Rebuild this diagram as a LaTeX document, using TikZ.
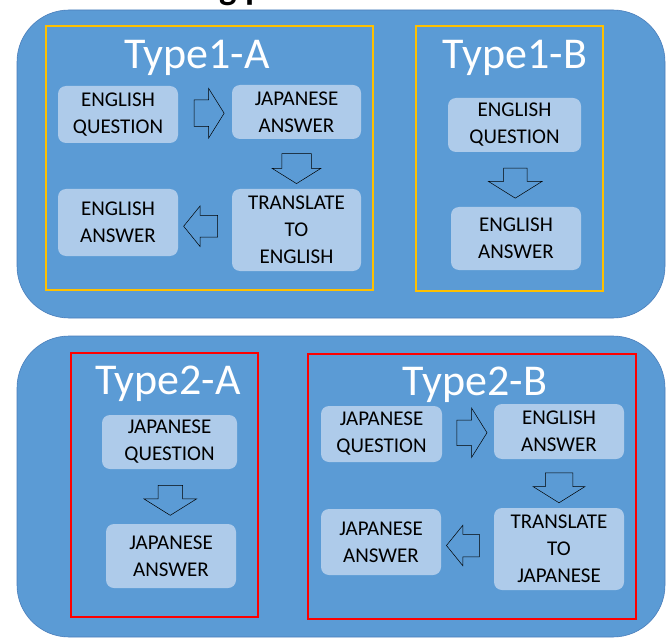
\documentclass[tikz,border=0pt]{standalone}
\usepackage{fontspec}
\setmainfont{Carlito}
\usetikzlibrary{shapes.arrows,calc}
\definecolor{panelblue}{HTML}{5B9BD5}
\definecolor{paneledge}{HTML}{4A7EBB}
\definecolor{boxblue}{HTML}{AECBEA}
\definecolor{frameyellow}{HTML}{FFC000}
\begin{document}
\begin{tikzpicture}[x=1pt,y=-1pt,
  panel/.style={draw=paneledge,fill=panelblue,line width=0.6pt,rounded corners=52pt},
  typeframe/.style={draw=#1,line width=2.2pt},
  typetitle/.style={anchor=base,text=white,font=\fontsize{44}{44}\selectfont},
  stepbox/.style={fill=boxblue,rounded corners=8pt,align=center,inner sep=0pt,
    font=\fontsize{21}{27}\selectfont},
  blockarrow/.style={single arrow,draw=black,fill=panelblue,line width=0.5pt,
    minimum height=30pt,single arrow tip angle=116},
  harrow/.style n args={3}{blockarrow,inner xsep=0pt,inner ysep=#2,
    single arrow head extend=#3,shape border rotate=#1},
  varrow/.style n args={2}{blockarrow,inner ysep=0pt,inner xsep=#1,
    single arrow head extend=#2,shape border rotate=270}]
  \useasboundingbox (0,0) rectangle (669,639);
  % cut-off heading
  \node (heading) at (398,0) [anchor=base east,font=\bfseries\fontsize{37}{37}\selectfont] {Types of answering processes};
  % the two panels
  \draw[panel] (17,10) rectangle (665,318);
  \draw[panel] (17,336) rectangle (665,637);
  \draw[typeframe=frameyellow] (46,26) rectangle (373,290);
  \draw[typeframe=frameyellow] (416,26) rectangle (603,291);
  \draw[typeframe=red] (71,353) rectangle (258,617);
  \draw[typeframe=red] (308,354) rectangle (636,619);
  \node (t1a) at (197,69) [typetitle] {Type1-A};
  \node (t1b) at (515,69) [typetitle] {Type1-B};
  \node (t2a) at (168,394) [typetitle] {Type2-A};
  \node (t2b) at (475,395) [typetitle] {Type2-B};
  % Type1-A
  \node (eqa) at (118,114.5) [stepbox,minimum width=120pt,minimum height=57pt] {ENGLISH\\QUESTION};
  \node (jaa) at (296.5,112) [stepbox,minimum width=129pt,minimum height=54pt] {JAPANESE\\ANSWER};
  \node (tta) at (296.5,230) [stepbox,minimum width=129pt,minimum height=82pt] {TRANSLATE\\TO\\ENGLISH};
  \node (eaa) at (118,222.5) [stepbox,minimum width=120pt,minimum height=67pt] {ENGLISH\\ANSWER};
  \node (ar1) at ($(eqa.east)!0.5!(jaa.west)$) [harrow={0}{13pt}{11.5pt}] {};
  \node (ar2) at ($(jaa.south)!0.5!(tta.north)$) [varrow={14.5pt}{9.5pt}] {};
  \node (ar3) at ($(tta.west)!0.5!(eaa.east)$) [harrow={180}{10.5pt}{9.5pt},single arrow tip angle=102,minimum height=34pt] {};
  % Type1-B
  \node (eqb) at (514.5,125) [stepbox,minimum width=133pt,minimum height=54pt] {ENGLISH\\QUESTION};
  \node (eab) at (516,238.5) [stepbox,minimum width=130pt,minimum height=63pt] {ENGLISH\\ANSWER};
  \node (ar4) at ($(eqb.south)!0.5!(eab.north)$) [varrow={11.5pt}{15pt}] {};
  % Type2-A
  \node (jqc) at (169.5,442) [stepbox,minimum width=135pt,minimum height=54pt] {JAPANESE\\QUESTION};
  \node (jac) at (171,556) [stepbox,minimum width=130pt,minimum height=64pt] {JAPANESE\\ANSWER};
  \node (ar5) at ($(jqc.south)!0.5!(jac.north)$) [varrow={12pt}{14pt}] {};
  % Type2-B
  \node (jqd) at (381.5,434) [stepbox,minimum width=121pt,minimum height=56pt] {JAPANESE\\QUESTION};
  \node (ead) at (559,431.5) [stepbox,minimum width=130pt,minimum height=55pt] {ENGLISH\\ANSWER};
  \node (ttd) at (559,549) [stepbox,minimum width=130pt,minimum height=82pt] {TRANSLATE\\TO\\JAPANESE};
  \node (jad) at (381,542) [stepbox,minimum width=120pt,minimum height=66pt] {JAPANESE\\ANSWER};
  \node (ar6) at ($(jqd.east)!0.5!(ead.west)$) [harrow={0}{12.5pt}{12pt}] {};
  \node (ar7) at ($(ead.south)!0.5!(ttd.north)$) [varrow={13.5pt}{12pt}] {};
  \node (ar8) at ($(ttd.west)!0.5!(jad.east)$) [harrow={180}{11pt}{9pt},single arrow tip angle=102,minimum height=33pt] {};
\end{tikzpicture}
\end{document}
